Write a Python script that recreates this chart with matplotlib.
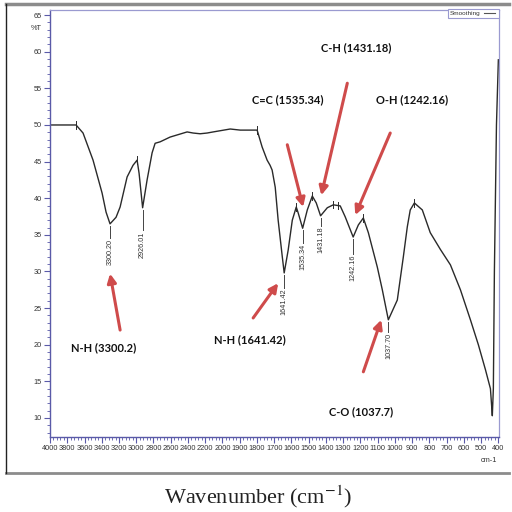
import matplotlib
matplotlib.use('Agg')
import matplotlib.pyplot as plt
import matplotlib.transforms as mtransforms
from matplotlib.lines import Line2D
from matplotlib.patches import Rectangle
import numpy as np

plt.rcParams['mathtext.fontset'] = 'stix'

# FTIR spectrum (wavenumber cm-1, %T)
wavenumber = [4000, 3850, 3698, 3617, 3501, 3396, 3350, 3304, 3234, 3187,
              3106, 3037, 2990, 2967, 2926, 2874, 2816, 2781, 2723, 2607,
              2410, 2340, 2259, 2178, 2108, 1955, 1897, 1839, 1799, 1770,
              1741, 1724, 1712, 1694, 1677, 1653, 1642, 1619, 1595, 1572,
              1561, 1535, 1508, 1479, 1456, 1431, 1392, 1357, 1317, 1288,
              1242, 1212, 1183, 1154, 1102, 1073, 1050, 1038, 986, 951,
              928, 911, 887, 841, 795, 736, 678, 620, 562, 516,
              475, 446, 440, 435, 429, 423, 411, 400]
transmittance = [50.0, 50.0, 50.0, 48.9, 45.2, 40.7, 38.1, 36.5, 37.4, 38.8,
                 42.9, 44.5, 45.2, 43.4, 38.7, 42.5, 46.2, 47.5, 47.7, 48.35,
                 49.05, 48.9, 48.8, 48.9, 49.05, 49.45, 49.3, 49.3, 49.3, 47.0,
                 45.2, 44.5, 43.85, 41.5, 37.0, 32.0, 29.8, 32.9, 37.0, 38.8,
                 38.0, 35.9, 38.4, 40.3, 39.35, 37.6, 38.7, 39.1, 38.95, 37.45,
                 34.7, 36.35, 37.3, 35.3, 30.6, 27.5, 24.8, 23.4, 26.1, 32.0,
                 36.1, 38.4, 39.35, 38.4, 35.3, 33.0, 30.9, 27.5, 23.4, 20.0,
                 16.6, 14.0, 12.0, 10.3, 14.0, 30.0, 50.0, 58.9]

# peak-pick labels (wavenumber, %T at the minimum, %T where the label starts)
peak_wn = [3300.20, 2926.01, 1641.42, 1535.34, 1431.18, 1242.16, 1037.70]
peak_t = [36.5, 38.7, 29.8, 35.9, 37.6, 34.7, 23.4]
peak_text_top = [34.7, 35.7, 27.9, 34.0, 36.3, 32.5, 21.8]

# small pick marks on the maxima
mark_wn = [3698, 2990, 1799, 1572, 1479, 1357, 1330, 1183, 887]
mark_t = [50.0, 45.2, 49.3, 38.8, 40.3, 39.1, 39.0, 37.3, 39.35]

# red arrow annotations: label, label position, arrow tail, arrow head
ann_text = ['N-H (3300.2)', 'N-H (1641.42)', 'C=C (1535.34)', 'C-H (1431.18)',
            'O-H (1242.16)', 'C-O (1037.7)']
ann_label_xy = [(3374, 19.6), (1839, 20.7), (1619, 53.4), (1224, 60.6),
                (899, 53.5), (1195, 10.8)]
ann_tail_xy = [(3187, 22.0), (1822, 23.65), (1624, 47.3), (1276, 55.7),
               (1027, 48.9), (1183, 16.3)]
ann_head_xy = [(3304, 29.7), (1677, 28.4), (1532, 38.8), (1427, 40.4),
               (1230, 37.7), (1079, 23.4)]

major_ticks = list(range(4000, 1999, -200)) + list(range(1900, 399, -100))
minor_ticks = list(range(4000, 2000, -40)) + list(range(2000, 399, -20))


def fwd(x):
    x = np.asarray(x, dtype=float)
    return np.where(x <= 2000, x, 2000 + (x - 2000) / 2)


def inv(y):
    y = np.asarray(y, dtype=float)
    return np.where(y <= 2000, y, 2000 + (y - 2000) * 2)


tick_font = ['Liberation Sans Narrow', 'Liberation Sans', 'DejaVu Sans']
spine_col = '#5a5aa8'
arrow_col = '#cf4b4b'

fig = plt.figure(figsize=(5.12, 5.12), dpi=100)
ax = fig.add_axes([0.0977, 0.1465, 0.877, 0.834])
ax.set_xscale('function', functions=(fwd, inv))

ax.plot(wavenumber, transmittance, color='#2a2a2a', lw=1.0)

for w, t in zip(mark_wn, mark_t):
    ax.plot([w, w], [t - 0.5, t + 0.5], color='#2a2a2a', lw=0.7)

for w, t, top in zip(peak_wn, peak_t, peak_text_top):
    ax.plot([w, w], [t - 0.3, top - 0.1], color='#444444', lw=0.7)
    ax.text(w, top - 0.2, f'{w:.2f}', rotation=90, ha='center', va='top',
            fontsize=5.2, color='#333333', family=tick_font)

for txt, lab, tail, head in zip(ann_text, ann_label_xy, ann_tail_xy, ann_head_xy):
    ax.annotate('', xy=head, xytext=tail,
                arrowprops=dict(arrowstyle='-|>', color=arrow_col, lw=2.2,
                                mutation_scale=13, shrinkA=0, shrinkB=0))
    ax.text(lab[0], lab[1], txt, ha='center', va='center', fontsize=8,
            fontweight='bold', family=['Lato', 'DejaVu Sans'], color='#111111')

ax.set_xlim(4000, 396)
ax.set_ylim(7.4, 65.7)
ax.set_xticks(major_ticks)
ax.set_xticklabels([str(v) for v in major_ticks])
ax.set_xticks(minor_ticks, minor=True)
ax.set_yticks(range(10, 66, 5))
ax.set_yticks(range(8, 66), minor=True)

for lbl in ax.get_xticklabels() + ax.get_yticklabels():
    lbl.set_family(tick_font)
    lbl.set_fontsize(5.3)
    lbl.set_color('#333333')
ax.tick_params(axis='both', which='major', length=4, width=0.8, color=spine_col, pad=2)
ax.tick_params(axis='both', which='minor', length=2.2, width=0.6, color=spine_col)
for side in ['left', 'bottom']:
    ax.spines[side].set_color(spine_col)
    ax.spines[side].set_linewidth(1.0)
for side in ['top', 'right']:
    ax.spines[side].set_color('#9a9ad0')
    ax.spines[side].set_linewidth(0.9)

trans = mtransforms.blended_transform_factory(ax.transAxes, ax.transData)
ax.text(-0.018, 63.2, '%T', transform=trans, ha='right', va='center',
        fontsize=5.3, family=tick_font, color='#333333')
ax.text(0.978, -0.055, 'cm-1', transform=ax.transAxes, ha='center', va='center',
        fontsize=5.3, family=tick_font, color='#333333')

# "Smoothing" legend box
fig.add_artist(Rectangle((0.875, 0.965), 0.0996, 0.0175, transform=fig.transFigure,
                         facecolor='white', edgecolor='#9a9ad0', lw=0.8))
fig.text(0.879, 0.9737, 'Smoothing', fontsize=4.6, family=tick_font,
         va='center', ha='left', color='#333333')
fig.add_artist(Line2D([0.945, 0.967], [0.9745, 0.9745], transform=fig.transFigure,
                      color='#555555', lw=0.8))

# outer frame of the screenshot
fig.add_artist(Line2D([0.012, 0.995], [0.992, 0.992], transform=fig.transFigure,
                      color='#8c8c8c', lw=2.5))
fig.add_artist(Line2D([0.012, 0.995], [0.076, 0.076], transform=fig.transFigure,
                      color='#8c8c8c', lw=2.0))
fig.add_artist(Line2D([0.012, 0.012], [0.076, 0.992], transform=fig.transFigure,
                      color='#222222', lw=1.0))

fig.text(0.505, 0.029, 'Wavenumber (cm$^{-1}$)', ha='center', va='center',
         fontsize=16, family='Liberation Serif', color='#222222')

fig.savefig('out.png', dpi=100)
